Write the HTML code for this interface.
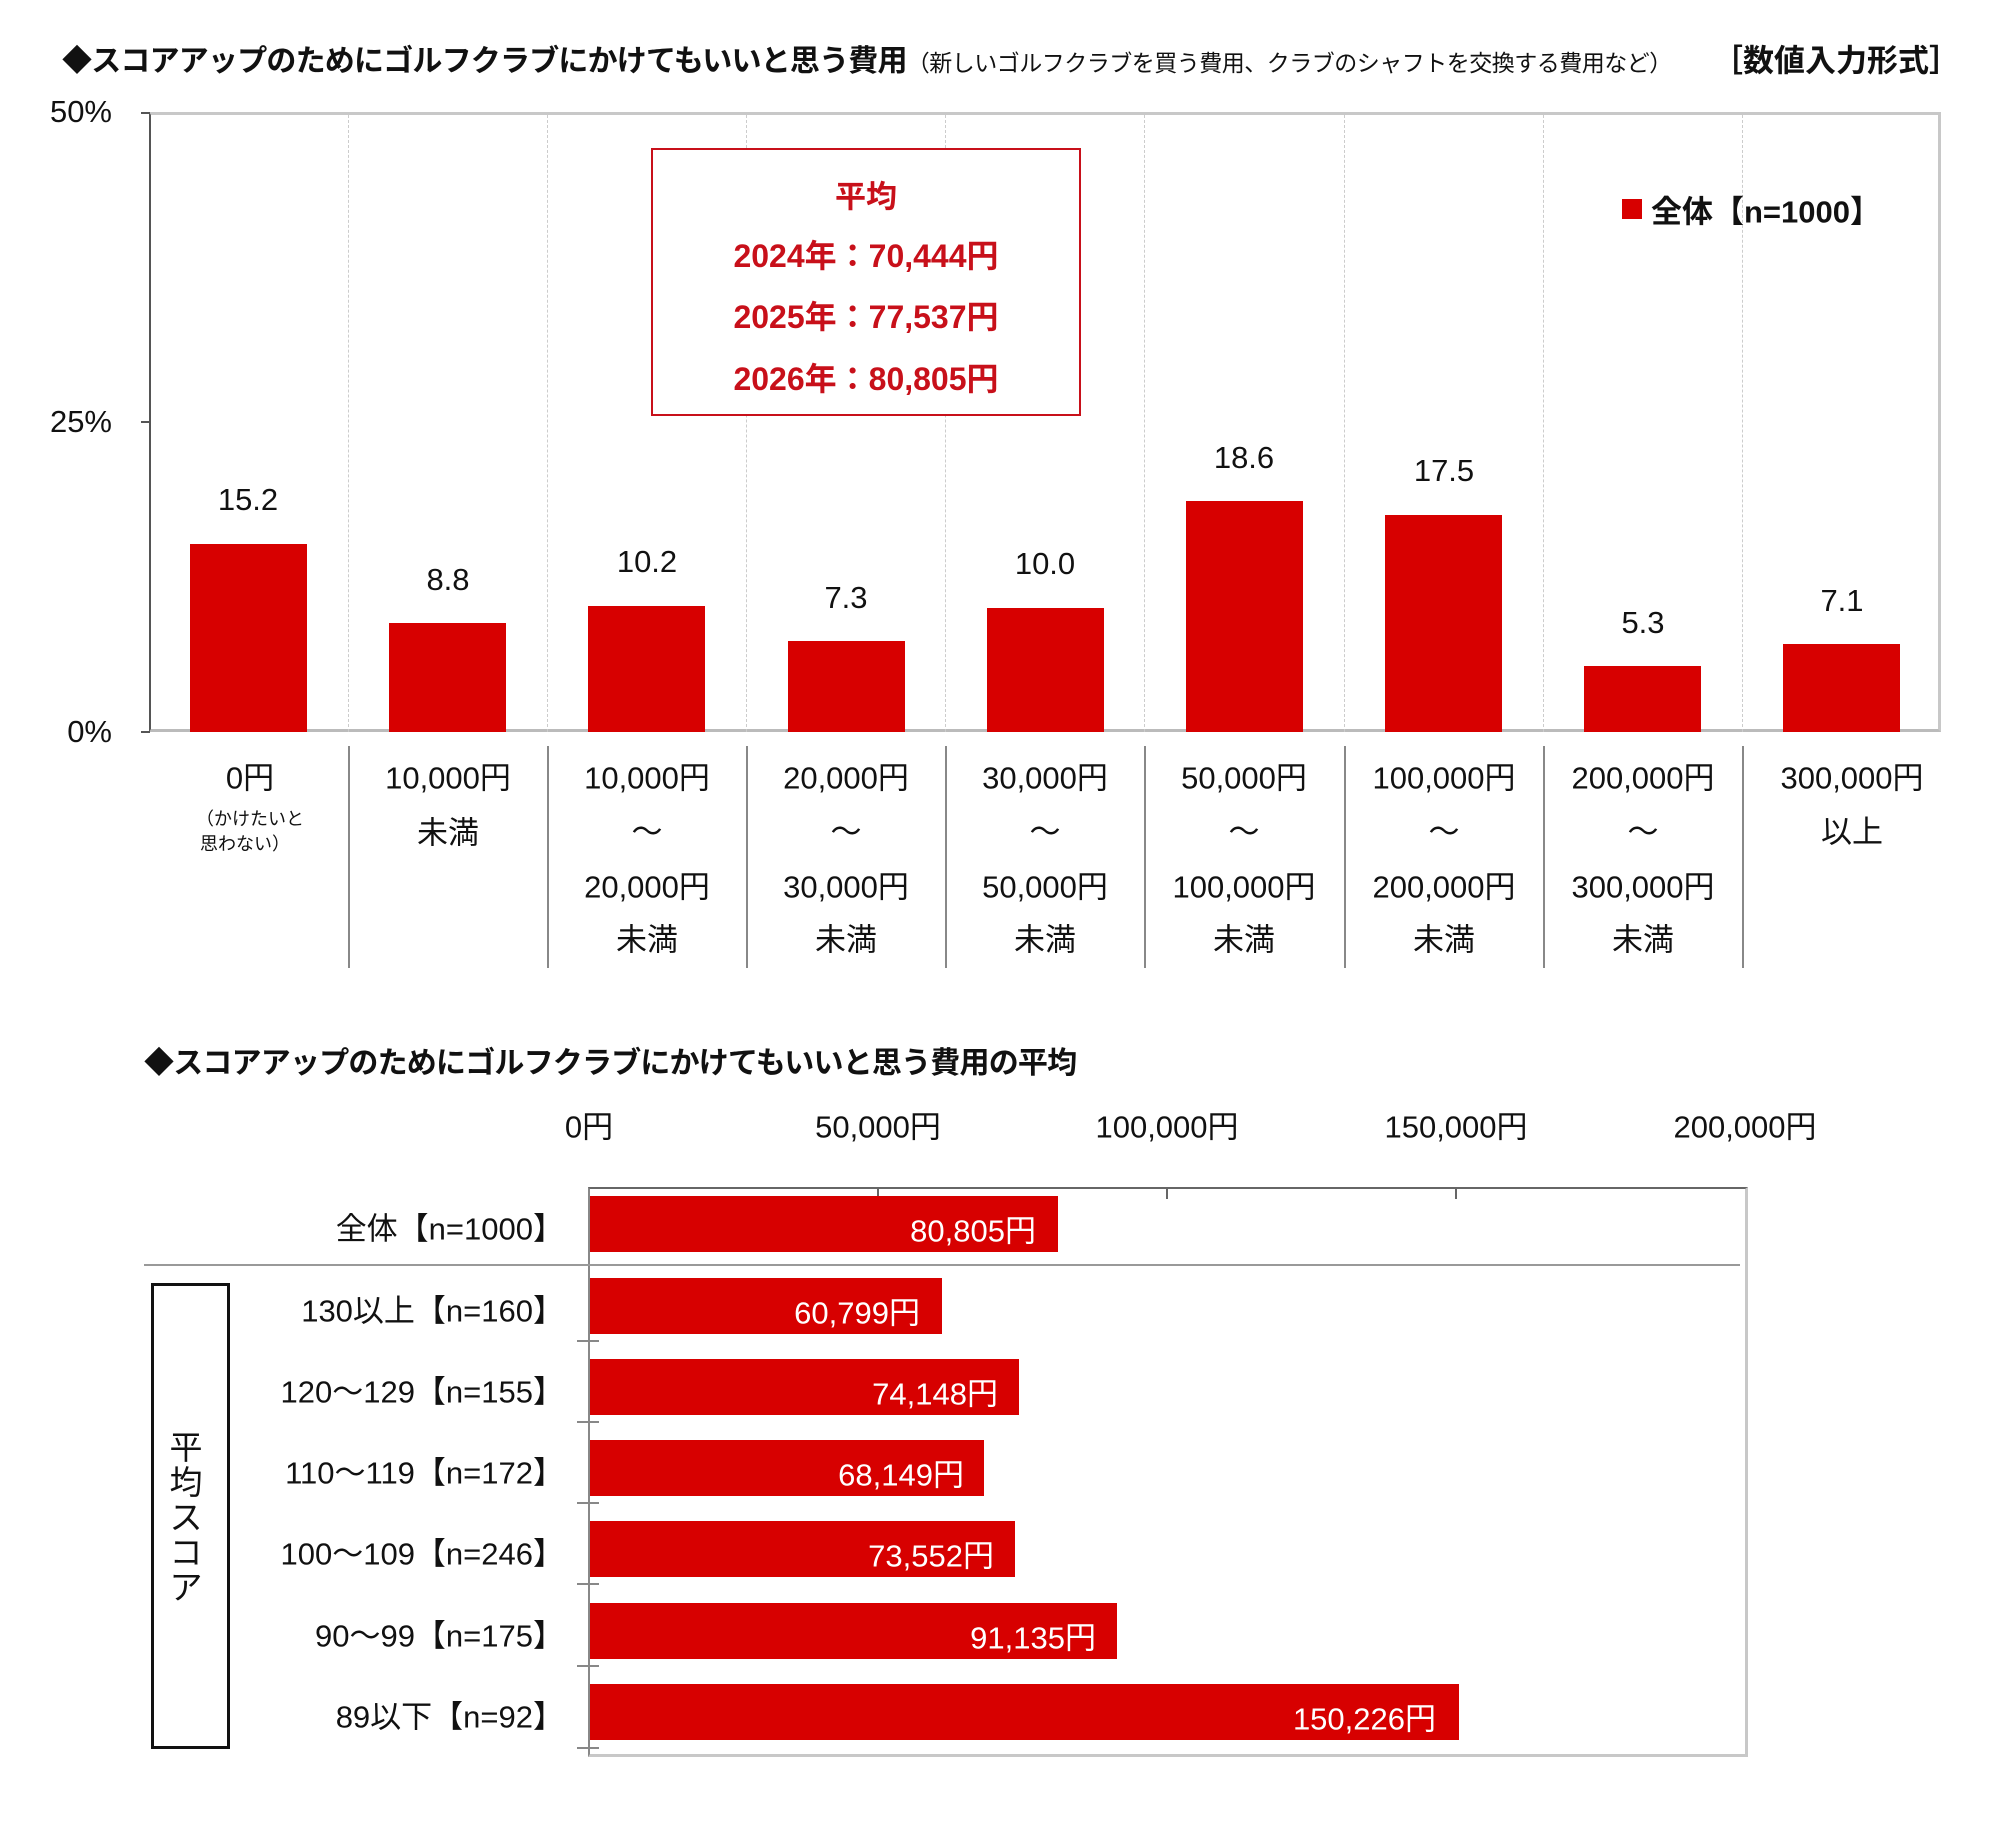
<!DOCTYPE html>
<html><head><meta charset="utf-8">
<style>
*{margin:0;padding:0;box-sizing:border-box}
body{width:2002px;height:1846px;background:#fff;position:relative;overflow:hidden;font-family:"Liberation Sans","Noto Sans CJK JP",sans-serif;color:#111}
.a{position:absolute;white-space:nowrap}
.c{transform:translate(-50%,-50%);text-align:center}
.r{transform:translateY(-50%);text-align:right}
.l{transform:translateY(-50%)}
.bar{position:absolute;background:#d70000}
.vl{position:absolute;width:2px;background:#888}
.gl{position:absolute;width:0;border-left:1px dashed #ccc}
.red{color:#c8101a}
</style></head><body>

<!-- title -->
<div class="a l" style="left:62px;top:58px;font-size:30px;font-weight:bold;letter-spacing:-0.8px">◆スコアアップのためにゴルフクラブにかけてもいいと思う費用<span style="font-size:23px;font-weight:normal;letter-spacing:-0.5px">（新しいゴルフクラブを買う費用、クラブのシャフトを交換する費用など）</span></div>
<div class="a l" style="left:1712px;top:58px;font-size:31px;font-weight:bold;background:#fff">［数値入力形式］</div>

<!-- top plot -->
<div class="a" style="left:149px;top:112px;width:1792px;height:620px;border:3px solid #c8c8c8;border-left:2px solid #555;border-bottom:3px solid #bbb"></div>
<div class="gl" style="left:348px;top:115px;height:617px"></div>
<div class="gl" style="left:547px;top:115px;height:617px"></div>
<div class="gl" style="left:746px;top:115px;height:617px"></div>
<div class="gl" style="left:945px;top:115px;height:617px"></div>
<div class="gl" style="left:1144px;top:115px;height:617px"></div>
<div class="gl" style="left:1344px;top:115px;height:617px"></div>
<div class="gl" style="left:1543px;top:115px;height:617px"></div>
<div class="gl" style="left:1742px;top:115px;height:617px"></div>
<div class="a" style="left:141px;top:112px;width:9px;height:2px;background:#555"></div>
<div class="a" style="left:141px;top:421px;width:9px;height:2px;background:#555"></div>
<div class="a" style="left:141px;top:731px;width:9px;height:2px;background:#555"></div>
<div class="a r" style="right:1890px;top:112px;font-size:31px">50%</div>
<div class="a r" style="right:1890px;top:422px;font-size:31px">25%</div>
<div class="a r" style="right:1890px;top:732px;font-size:31px">0%</div>

<div class="bar" style="left:190px;top:544px;width:117px;height:188px"></div>
<div class="bar" style="left:389px;top:623px;width:117px;height:109px"></div>
<div class="bar" style="left:588px;top:606px;width:117px;height:126px"></div>
<div class="bar" style="left:788px;top:641px;width:117px;height:91px"></div>
<div class="bar" style="left:987px;top:608px;width:117px;height:124px"></div>
<div class="bar" style="left:1186px;top:501px;width:117px;height:231px"></div>
<div class="bar" style="left:1385px;top:515px;width:117px;height:217px"></div>
<div class="bar" style="left:1584px;top:666px;width:117px;height:66px"></div>
<div class="bar" style="left:1783px;top:644px;width:117px;height:88px"></div>

<div class="a c" style="left:248px;top:500px;font-size:31px">15.2</div>
<div class="a c" style="left:448px;top:580px;font-size:31px">8.8</div>
<div class="a c" style="left:647px;top:562px;font-size:31px">10.2</div>
<div class="a c" style="left:846px;top:598px;font-size:31px">7.3</div>
<div class="a c" style="left:1045px;top:564px;font-size:31px">10.0</div>
<div class="a c" style="left:1244px;top:458px;font-size:31px">18.6</div>
<div class="a c" style="left:1444px;top:471px;font-size:31px">17.5</div>
<div class="a c" style="left:1643px;top:623px;font-size:31px">5.3</div>
<div class="a c" style="left:1842px;top:601px;font-size:31px">7.1</div>

<!-- average box -->
<div class="a" style="left:651px;top:148px;width:430px;height:268px;border:2px solid #c8101a;background:#fff"></div>
<div class="a c red" style="left:866px;top:194px;font-size:31px;font-weight:bold">平均</div>
<div class="a c red" style="left:866px;top:254px;font-size:32px;font-weight:bold">2024年：70,444円</div>
<div class="a c red" style="left:866px;top:315px;font-size:32px;font-weight:bold">2025年：77,537円</div>
<div class="a c red" style="left:866px;top:377px;font-size:32px;font-weight:bold">2026年：80,805円</div>

<!-- legend -->
<div class="a" style="left:1622px;top:199px;width:20px;height:20px;background:#d70000"></div>
<div class="a l" style="left:1651px;top:209px;font-size:31px;font-weight:bold">全体【n=1000】</div>

<!-- x labels -->
<div class="vl" style="left:348px;top:746px;height:222px"></div>
<div class="vl" style="left:547px;top:746px;height:222px"></div>
<div class="vl" style="left:746px;top:746px;height:222px"></div>
<div class="vl" style="left:945px;top:746px;height:222px"></div>
<div class="vl" style="left:1144px;top:746px;height:222px"></div>
<div class="vl" style="left:1344px;top:746px;height:222px"></div>
<div class="vl" style="left:1543px;top:746px;height:222px"></div>
<div class="vl" style="left:1742px;top:746px;height:222px"></div>

<div class="a c" style="left:250px;top:775px;font-size:31px">0円</div>
<div class="a c" style="left:250px;top:818px;font-size:18px">（かけたいと</div>
<div class="a c" style="left:245px;top:843px;font-size:18px">思わない）</div>
<div class="a c" style="left:448px;top:775px;font-size:31px">10,000円</div>
<div class="a c" style="left:448px;top:830px;font-size:31px">未満</div>
<div class="a c" style="left:647px;top:775px;font-size:31px">10,000円</div>
<div class="a c" style="left:647px;top:829px;font-size:31px">～</div>
<div class="a c" style="left:647px;top:884px;font-size:31px">20,000円</div>
<div class="a c" style="left:647px;top:937px;font-size:31px">未満</div>
<div class="a c" style="left:846px;top:775px;font-size:31px">20,000円</div>
<div class="a c" style="left:846px;top:829px;font-size:31px">～</div>
<div class="a c" style="left:846px;top:884px;font-size:31px">30,000円</div>
<div class="a c" style="left:846px;top:937px;font-size:31px">未満</div>
<div class="a c" style="left:1045px;top:775px;font-size:31px">30,000円</div>
<div class="a c" style="left:1045px;top:829px;font-size:31px">～</div>
<div class="a c" style="left:1045px;top:884px;font-size:31px">50,000円</div>
<div class="a c" style="left:1045px;top:937px;font-size:31px">未満</div>
<div class="a c" style="left:1244px;top:775px;font-size:31px">50,000円</div>
<div class="a c" style="left:1244px;top:829px;font-size:31px">～</div>
<div class="a c" style="left:1244px;top:884px;font-size:31px">100,000円</div>
<div class="a c" style="left:1244px;top:937px;font-size:31px">未満</div>
<div class="a c" style="left:1444px;top:775px;font-size:31px">100,000円</div>
<div class="a c" style="left:1444px;top:829px;font-size:31px">～</div>
<div class="a c" style="left:1444px;top:884px;font-size:31px">200,000円</div>
<div class="a c" style="left:1444px;top:937px;font-size:31px">未満</div>
<div class="a c" style="left:1643px;top:775px;font-size:31px">200,000円</div>
<div class="a c" style="left:1643px;top:829px;font-size:31px">～</div>
<div class="a c" style="left:1643px;top:884px;font-size:31px">300,000円</div>
<div class="a c" style="left:1643px;top:937px;font-size:31px">未満</div>
<div class="a c" style="left:1852px;top:775px;font-size:31px">300,000円</div>
<div class="a c" style="left:1852px;top:829px;font-size:31px">以上</div>

<!-- bottom chart -->
<div class="a l" style="left:144px;top:1060px;font-size:30px;font-weight:bold;letter-spacing:-0.8px">◆スコアアップのためにゴルフクラブにかけてもいいと思う費用の平均</div>
<div class="a c" style="left:589px;top:1124px;font-size:31px">0円</div>
<div class="a c" style="left:878px;top:1124px;font-size:31px">50,000円</div>
<div class="a c" style="left:1167px;top:1124px;font-size:31px">100,000円</div>
<div class="a c" style="left:1456px;top:1124px;font-size:31px">150,000円</div>
<div class="a c" style="left:1745px;top:1124px;font-size:31px">200,000円</div>

<div class="a" style="left:588px;top:1187px;width:1160px;height:570px;border:3px solid #c8c8c8;border-left:2px solid #888;border-top:2px solid #666"></div>
<div class="a" style="left:877px;top:1187px;width:2px;height:12px;background:#666"></div>
<div class="a" style="left:1166px;top:1187px;width:2px;height:12px;background:#666"></div>
<div class="a" style="left:1455px;top:1187px;width:2px;height:12px;background:#666"></div>
<div class="a" style="left:144px;top:1264px;width:1596px;height:2px;background:#999"></div>
<div class="a" style="left:577px;top:1340px;width:22px;height:2px;background:#888"></div>
<div class="a" style="left:577px;top:1421px;width:22px;height:2px;background:#888"></div>
<div class="a" style="left:577px;top:1502px;width:22px;height:2px;background:#888"></div>
<div class="a" style="left:577px;top:1583px;width:22px;height:2px;background:#888"></div>
<div class="a" style="left:577px;top:1665px;width:22px;height:2px;background:#888"></div>
<div class="a" style="left:577px;top:1747px;width:22px;height:2px;background:#888"></div>

<div class="bar" style="left:590px;top:1196px;width:468px;height:56px"></div>
<div class="bar" style="left:590px;top:1278px;width:352px;height:56px"></div>
<div class="bar" style="left:590px;top:1359px;width:429px;height:56px"></div>
<div class="bar" style="left:590px;top:1440px;width:394px;height:56px"></div>
<div class="bar" style="left:590px;top:1521px;width:425px;height:56px"></div>
<div class="bar" style="left:590px;top:1603px;width:527px;height:56px"></div>
<div class="bar" style="left:590px;top:1684px;width:869px;height:56px"></div>

<div class="a r" style="right:966px;top:1228px;font-size:31px;color:#fff">80,805円</div>
<div class="a r" style="right:1082px;top:1310px;font-size:31px;color:#fff">60,799円</div>
<div class="a r" style="right:1004px;top:1391px;font-size:31px;color:#fff">74,148円</div>
<div class="a r" style="right:1038px;top:1472px;font-size:31px;color:#fff">68,149円</div>
<div class="a r" style="right:1008px;top:1553px;font-size:31px;color:#fff">73,552円</div>
<div class="a r" style="right:906px;top:1635px;font-size:31px;color:#fff">91,135円</div>
<div class="a r" style="right:566px;top:1716px;font-size:31px;color:#fff">150,226円</div>

<div class="a r" style="right:1438px;top:1226px;font-size:31px">全体【n=1000】</div>
<div class="a r" style="right:1438px;top:1308px;font-size:31px">130以上【n=160】</div>
<div class="a r" style="right:1438px;top:1389px;font-size:31px">120～129【n=155】</div>
<div class="a r" style="right:1438px;top:1470px;font-size:31px">110～119【n=172】</div>
<div class="a r" style="right:1438px;top:1551px;font-size:31px">100～109【n=246】</div>
<div class="a r" style="right:1438px;top:1633px;font-size:31px">90～99【n=175】</div>
<div class="a r" style="right:1438px;top:1714px;font-size:31px">89以下【n=92】</div>

<div class="a" style="left:151px;top:1283px;width:79px;height:466px;border:3px solid #111"></div>
<div class="a" style="left:166px;top:1430px;width:40px;font-size:33px;line-height:35px;text-align:center;white-space:normal">平<br>均<br>ス<br>コ<br>ア</div>

</body></html>
